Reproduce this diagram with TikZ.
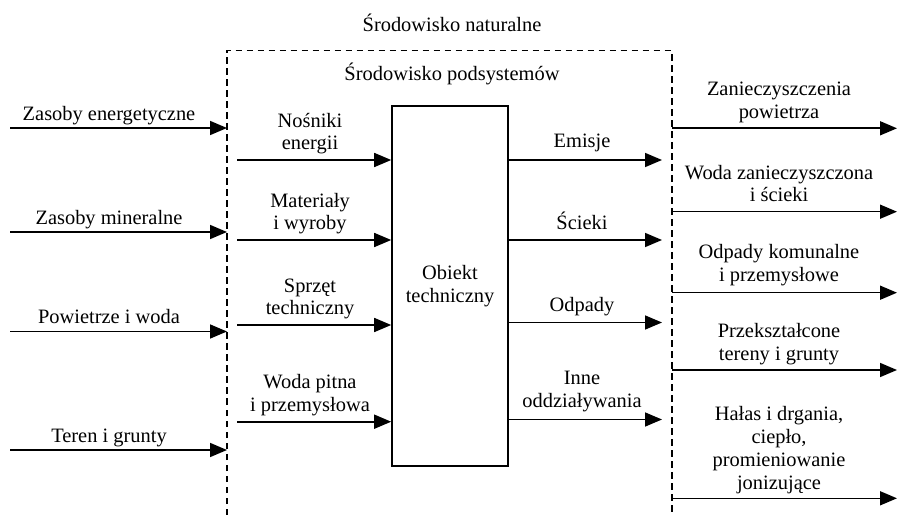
\documentclass[tikz,border=0pt]{standalone}
\usepackage{fontspec}
\setmainfont{Liberation Serif}
\usetikzlibrary{arrows.meta}
\begin{document}
\begin{tikzpicture}[x=1bp,y=-1bp,
  lbl/.style={font=\fontsize{20.5}{23}\selectfont, align=center, inner sep=0pt, anchor=base},
  arr/.style={line width=1.6bp, -{Triangle[length=17bp,width=14bp]}},
  envline/.style={line width=1.2bp, dash pattern=on 6.5bp off 4.5bp},
  objbox/.style={draw, line width=1.6bp, minimum width=116bp, minimum height=360bp, inner sep=0pt,
    font=\fontsize{20.5}{23}\selectfont, align=center}]
\useasboundingbox (0,0) rectangle (898,515);
% environment frame
\coordinate (dl) at (227,515);
\coordinate (tl) at (227,50.7);
\coordinate (tr) at (672,50.7);
\coordinate (dr) at (672,515);
\draw[envline] (dl) -- (tl) -- (tr) -- (dr);
\node[lbl] (nat) at (452,32) {Środowisko naturalne};
\node[lbl] (pod) at (452,81) {Środowisko podsystemów};
% object
\node[objbox] (obj) at (450,286) {Obiekt\\techniczny};
% left outer
\foreach \i/\y/\t in {1/128/{Zasoby energetyczne}, 2/232/{Zasoby mineralne}, 3/331.5/{Powietrze i woda}, 4/450/{Teren i grunty}}{
  \coordinate (lo\i s) at (10,\y);
  \coordinate (lo\i e) at (227,\y);
  \draw[arr] (lo\i s) -- (lo\i e);
  \node[lbl] (lol\i) at (109,\y-7.8) {\t};
}
% left inner
\foreach \i/\y/\t in {1/160/{Nośniki\\energii}, 2/240/{Materiały\\i wyroby}, 3/325/{Sprzęt\\techniczny}, 4/421.7/{Woda pitna\\i przemysłowa}}{
  \coordinate (li\i s) at (237,\y);
  \draw[arr] (li\i s) -- (obj.west |- li\i s);
  \node[lbl] (lil\i) at (310,\y-10) {\t};
}
% right inner
\foreach \i/\y/\b/\t in {1/160/148/{Emisje}, 2/240/230/{Ścieki}, 3/322.5/311.5/{Odpady}, 4/419.5/407/{Inne\\oddziaływania}}{
  \coordinate (ri\i e) at (662,\y);
  \draw[arr] (obj.east |- ri\i e) -- (ri\i e);
  \node[lbl] (ril\i) at (582,\b) {\t};
}
% right outer
\foreach \i/\y/\b/\t in {1/128.3/118.5/{Zanieczyszczenia\\powietrza}, 2/211.7/202/{Woda zanieczyszczona\\i ścieki}, 3/292.7/281.5/{Odpady komunalne\\i przemysłowe}, 4/370/360/{Przekształcone\\tereny i grunty}, 5/498.3/489/{Hałas i drgania,\\ciepło,\\promieniowanie\\jonizujące}}{
  \coordinate (ro\i s) at (672,\y);
  \coordinate (ro\i e) at (897,\y);
  \draw[arr] (ro\i s) -- (ro\i e);
  \node[lbl] (rol\i) at (779,\b) {\t};
}
\end{tikzpicture}
\end{document}
